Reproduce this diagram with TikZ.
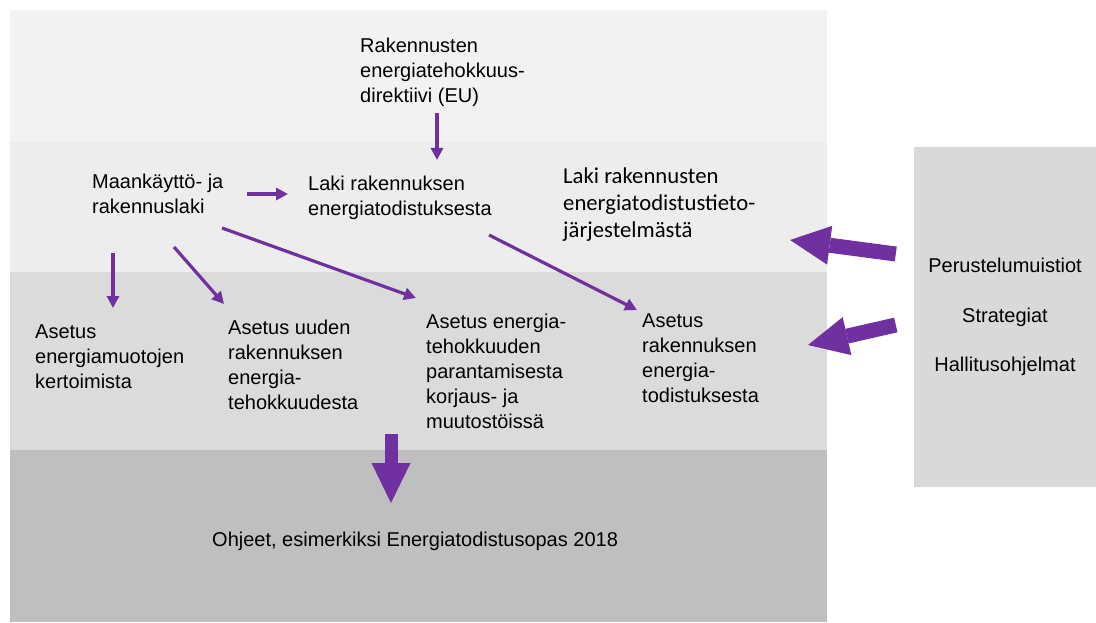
\documentclass[tikz,border=0pt]{standalone}
\usepackage{fontspec}
\setmainfont{Liberation Sans}
\newfontfamily\carlito{Carlito}
\usetikzlibrary{calc,arrows.meta}
\definecolor{violetti}{HTML}{7030A0}
\definecolor{kaistaA}{HTML}{F2F2F2}
\definecolor{kaistaB}{HTML}{EDEDED}
\definecolor{kaistaC}{HTML}{DBDBDB}
\definecolor{kaistaD}{HTML}{BFBFBF}
\definecolor{laatikko}{HTML}{D9D9D9}

\begin{document}
\begin{tikzpicture}[x=1pt,y=-1pt,>={Triangle[length=12pt,width=12pt]},
        teksti/.style={anchor=base west,align=left,inner sep=0pt,font=\fontsize{20}{25}\selectfont},
        nuoli/.style={->,violetti,line width=3.2pt},
        tykki/.style={-{Triangle[length=40pt,width=39pt,line width=0pt]},violetti,line width=15pt}]
                \useasboundingbox (0,0) rectangle (1096,623);

                % kaistat
                \fill[kaistaA] (10,10) rectangle (827,142);
                \fill[kaistaB] (10,142) rectangle (827,272);
                \fill[kaistaC] (10,272) rectangle (827,450);
                \fill[kaistaD] (10,450) rectangle (827,622);

                % base = viimeisen rivin perusviiva
                \node[teksti] (direktiivi) at (360,103) {Rakennusten\\energiatehokkuus-\\direktiivi (EU)};
                \node[teksti] (mrl) at (92,214) {Maankäyttö- ja\\rakennuslaki};
                \node[teksti] (laki) at (308,215) {Laki rakennuksen\\energiatodistuksesta};
                \node[teksti,font=\carlito\fontsize{22.7}{27}\selectfont] (tietolaki) at (563,237) {Laki rakennusten\\energiatodistustieto-\\järjestelmästä};

                \node[teksti] (kertoimet) at (35,388) {Asetus\\energiamuotojen\\kertoimista};
                \node[teksti] (uudet) at (228,409) {Asetus uuden\\rakennuksen\\energia-\\tehokkuudesta};
                \node[teksti] (korjaus) at (426,428) {Asetus energia-\\tehokkuuden\\parantamisesta\\korjaus- ja\\muutostöissä};
                \node[teksti] (todistus) at (642,402) {Asetus\\rakennuksen\\energia-\\todistuksesta};

                \node[teksti] (ohjeet) at (212,546) {Ohjeet, esimerkiksi Energiatodistusopas 2018};

                \node[fill=laatikko,minimum width=182pt,minimum height=340pt,align=center,
                    font=\fontsize{20}{49.5}\selectfont] (tausta) at (1005,317)
                    {Perustelumuistiot\\Strategiat\\Hallitusohjelmat};

                % ohuet nuolet
                \draw[nuoli] ([shift={(77,10)}]direktiivi.base west) -- ([shift={(129,-55)}]laki.base west);
                \draw[nuoli] ([shift={(155,-20)}]mrl.base west) -- ([shift={(-20,-21)}]laki.base west);
                \draw[nuoli] ([shift={(21,39)}]mrl.base west) -- ([shift={(78,-80)}]kertoimet.base west);
                \draw[nuoli] ([shift={(82,33)}]mrl.base west) -- ([shift={(-4,-105)}]uudet.base west);
                \draw[nuoli] ([shift={(130,14)}]mrl.base west) -- ([shift={(-10,-130)}]korjaus.base west);
                \draw[nuoli] ([shift={(181,20)}]laki.base west) -- ([shift={(-5,-92)}]todistus.base west);

                % paksut nuolet
                \draw[tykki] ([shift={(-18,-63)}]tausta.west) -- ([shift={(227,3)}]tietolaki.base west);
                \draw[tykki] ([shift={(-18,8)}]tausta.west) -- ([shift={(166,-57)}]todistus.base west);
                \draw[tykki,line width=13pt] ([shift={(-35,6)}]korjaus.base west) -- ([shift={(179,-43)}]ohjeet.base west);
\end{tikzpicture}
\end{document}
